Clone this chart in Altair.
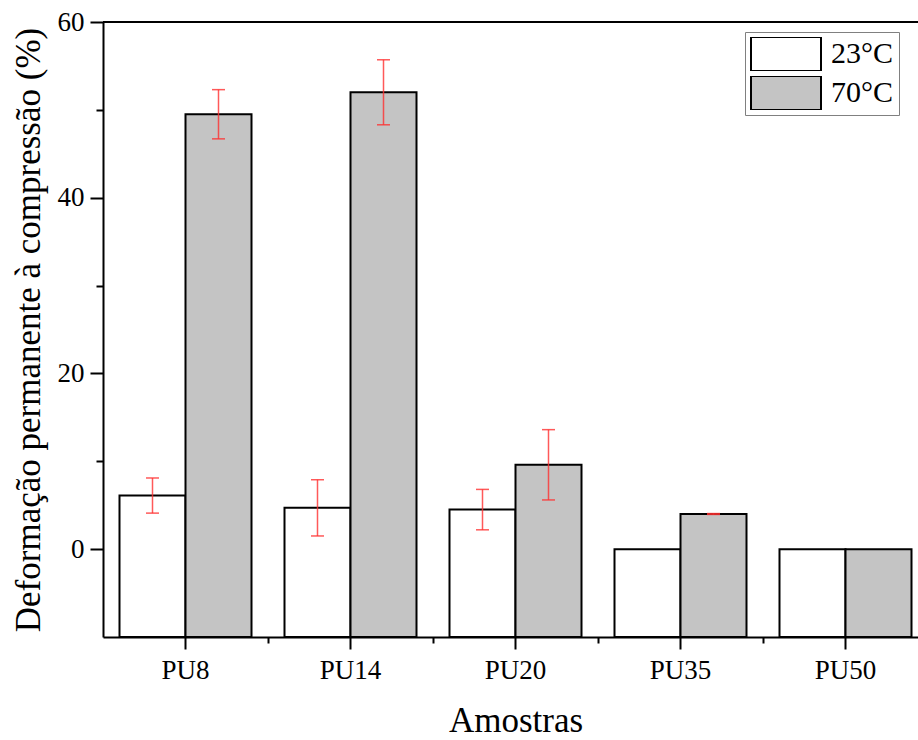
import altair as alt
import pandas as pd

categories = ["PU8", "PU14", "PU20", "PU35", "PU50"]
temps = ["23°C", "70°C"]
values_23 = [6.1, 4.7, 4.5, 0.0, 0.0]
errors_23 = [2.0, 3.2, 2.3, 0.0, 0.0]
values_70 = [49.5, 52.0, 9.6, 4.0, 0.0]
errors_70 = [2.8, 3.7, 4.0, 0.05, 0.0]

rows = []
for i, c in enumerate(categories):
    rows.append({"cat": c, "temp": temps[0], "value": values_23[i], "err": errors_23[i]})
    rows.append({"cat": c, "temp": temps[1], "value": values_70[i], "err": errors_70[i]})
df = pd.DataFrame(rows)
df["lo"] = df["value"] - df["err"]
df["hi"] = df["value"] + df["err"]
df["base"] = -10.0
err_df = df[df["err"] > 0].reset_index(drop=True)

FONT = "Liberation Serif"

xscale = alt.Scale(domain=categories, paddingInner=0.2, paddingOuter=0.1, range=[0, 825])
yscale = alt.Scale(domain=[-10, 60], nice=False, zero=False)
off_scale = alt.Scale(domain=temps, paddingInner=0, paddingOuter=0)

yaxis = alt.Axis(
    title="Deformação permanente à compressão (%)",
    values=[0, 10, 20, 30, 40, 50, 60],
    labelExpr="datum.value % 20 === 0 ? datum.label : ''",
    tickSize={"condition": {"test": "datum.value % 20 === 0", "value": 13}, "value": 7},
    grid=False,
    domainColor="black", domainWidth=2,
    tickColor="black", tickWidth=2,
    labelFont=FONT, labelFontSize=27, labelColor="black", labelPadding=6,
    titleFont=FONT, titleFontSize=35, titleFontWeight="normal", titleColor="black",
    titlePadding=11,
)

bars = alt.Chart(df).mark_bar(stroke="black", strokeWidth=2).encode(
    x=alt.X("cat:N", scale=xscale, sort=categories,
            axis=alt.Axis(title="Amostras", grid=False, domainColor="black", domainWidth=2,
                          tickColor="black", tickWidth=2, tickSize=12,
                          labelAngle=0, labelFont=FONT, labelFontSize=27, labelColor="black",
                          labelPadding=8, titleFont=FONT, titleFontSize=35,
                          titleFontWeight="normal", titleColor="black", titlePadding=20)),
    xOffset=alt.XOffset("temp:N", scale=off_scale, sort=temps),
    y=alt.Y("value:Q", scale=yscale, axis=yaxis),
    y2=alt.Y2("base:Q"),
    fill=alt.Fill("temp:N", sort=temps,
                  scale=alt.Scale(domain=temps, range=["white", "#c4c4c4"]),
                  legend=alt.Legend(
                      title=None, orient="none", legendX=642, legendY=10,
                      symbolType="M-1,-0.486H1V0.486H-1Z", symbolSize=4900,
                      clipHeight=34, symbolStrokeColor="black", symbolStrokeWidth=2,
                      labelFont=FONT, labelFontSize=30, labelColor="black",
                      labelOffset=9, rowPadding=5, padding=5,
                      strokeColor="#808080", fillColor="white")),
)

err_rules = alt.Chart(err_df).mark_rule(color="#ff3030", strokeWidth=1.5, opacity=0.8).encode(
    x=alt.X("cat:N", scale=xscale, sort=categories,
            axis=alt.Axis(orient="bottom", tickOffset=82.5, tickSize=6, tickWidth=2,
                          tickColor="black", labels=False, domain=False, title=None, grid=False)),
    xOffset=alt.XOffset("temp:N", scale=off_scale, sort=temps),
    y=alt.Y("lo:Q", scale=yscale, axis=yaxis),
    y2=alt.Y2("hi:Q"),
)

caps_lo = alt.Chart(err_df).mark_tick(color="#ff3030", thickness=1.5, size=13, opacity=0.8).encode(
    x=alt.X("cat:N", scale=xscale, sort=categories, axis=None),
    xOffset=alt.XOffset("temp:N", scale=off_scale, sort=temps),
    y=alt.Y("lo:Q", scale=yscale, axis=yaxis),
)
caps_hi = alt.Chart(err_df).mark_tick(color="#ff3030", thickness=1.5, size=13, opacity=0.8).encode(
    x=alt.X("cat:N", scale=xscale, sort=categories, axis=None),
    xOffset=alt.XOffset("temp:N", scale=off_scale, sort=temps),
    y=alt.Y("hi:Q", scale=yscale, axis=yaxis),
)

top_line = alt.Chart(pd.DataFrame({"v": [60]})).mark_rule(color="black", strokeWidth=2).encode(
    y=alt.Y("v:Q", scale=yscale, axis=yaxis),
)

chart = alt.layer(bars, err_rules, caps_lo, caps_hi, top_line).resolve_axis(
    x="independent"
).properties(
    width=815, height=615,
    autosize=alt.AutoSizeParams(type="none"),
    padding={"left": 103, "top": 22, "right": 0, "bottom": 103},
    background="white",
).configure_view(stroke=None)

chart.save("out.html", embed_options={"renderer": "svg", "actions": False})
